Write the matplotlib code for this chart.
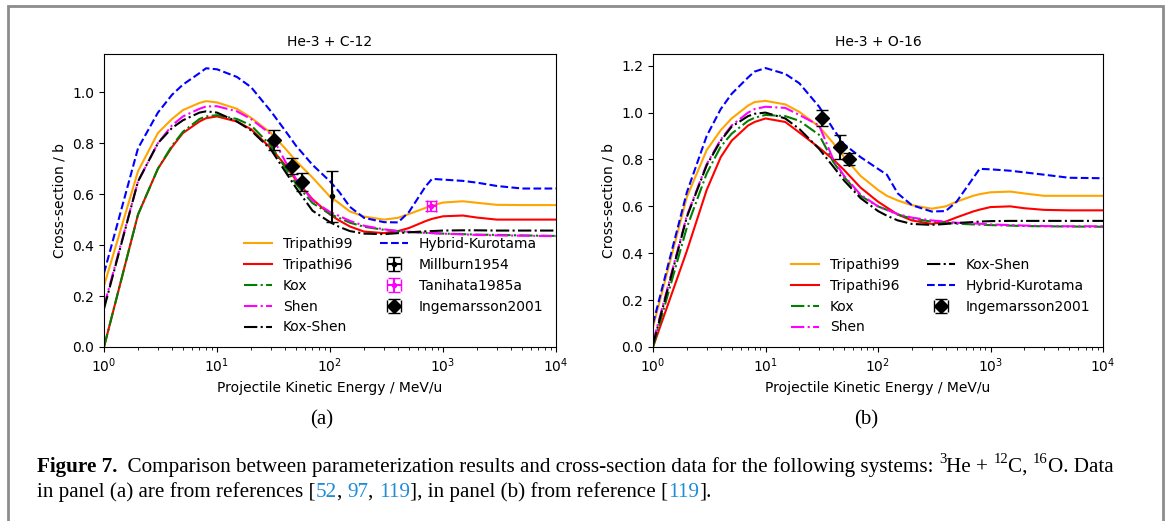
import matplotlib
matplotlib.use("Agg")
import matplotlib.pyplot as plt
from matplotlib.patches import Rectangle

# ---------------------------
# Data
# ---------------------------
W, H, DPI = 1167, 521, 100

energy = [1, 2, 3, 4, 5, 7, 8, 10, 15, 20, 30, 40, 50, 70, 100, 120, 150, 200,
          300, 400, 500, 700, 800, 1000, 1500, 2000, 3000, 5000, 10000]

# panel (a): He-3 + C-12
tri99_a = [0.24, 0.69, 0.84, 0.895, 0.93, 0.958, 0.965, 0.96, 0.935, 0.90, 0.84, 0.78, 0.73, 0.665, 0.59,
           0.565, 0.532, 0.512, 0.50, 0.507, 0.522, 0.546, 0.555, 0.567, 0.572, 0.566, 0.558, 0.557, 0.557]
tri96_a = [0.0, 0.52, 0.70, 0.785, 0.84, 0.885, 0.898, 0.905, 0.885, 0.855, 0.78, 0.715, 0.655, 0.58, 0.52,
           0.497, 0.473, 0.453, 0.447, 0.455, 0.467, 0.494, 0.503, 0.513, 0.516, 0.508, 0.50, 0.50, 0.50]
kox_a = [0.0, 0.52, 0.70, 0.79, 0.845, 0.895, 0.905, 0.91, 0.895, 0.87, 0.79, 0.705, 0.64, 0.565, 0.522,
         0.507, 0.488, 0.472, 0.46, 0.455, 0.452, 0.448, 0.447, 0.445, 0.443, 0.441, 0.44, 0.438, 0.436]
shen_a = [0.16, 0.65, 0.80, 0.87, 0.905, 0.935, 0.944, 0.945, 0.925, 0.895, 0.835, 0.73, 0.66, 0.575, 0.53,
          0.515, 0.495, 0.476, 0.462, 0.455, 0.452, 0.448, 0.447, 0.445, 0.442, 0.44, 0.438, 0.437, 0.435]
koxshen_a = [0.15, 0.65, 0.80, 0.86, 0.89, 0.92, 0.925, 0.92, 0.885, 0.85, 0.775, 0.69, 0.625, 0.535, 0.49,
             0.472, 0.455, 0.445, 0.443, 0.447, 0.45, 0.454, 0.455, 0.457, 0.458, 0.458, 0.457, 0.457, 0.457]
hybrid_a = [0.29, 0.78, 0.92, 0.99, 1.03, 1.075, 1.094, 1.09, 1.06, 1.02, 0.925, 0.85, 0.79, 0.715, 0.65,
            0.61, 0.55, 0.507, 0.49, 0.489, 0.53, 0.63, 0.66, 0.657, 0.652, 0.645, 0.632, 0.622, 0.622]

# panel (b): He-3 + O-16
tri99_b = [0.085, 0.64, 0.84, 0.925, 0.975, 1.03, 1.045, 1.05, 1.035, 1.003, 0.94, 0.87, 0.81, 0.73, 0.67,
           0.645, 0.625, 0.605, 0.59, 0.60, 0.62, 0.645, 0.652, 0.66, 0.663, 0.655, 0.645, 0.645, 0.645]
tri96_b = [0.0, 0.41, 0.67, 0.81, 0.88, 0.945, 0.96, 0.975, 0.96, 0.915, 0.85, 0.80, 0.755, 0.68, 0.62,
           0.595, 0.565, 0.54, 0.525, 0.535, 0.553, 0.578, 0.586, 0.597, 0.60, 0.592, 0.585, 0.583, 0.583]
kox_b = [0.0, 0.51, 0.74, 0.855, 0.91, 0.965, 0.978, 0.99, 0.985, 0.965, 0.905, 0.79, 0.725, 0.645, 0.60,
         0.585, 0.565, 0.548, 0.535, 0.53, 0.526, 0.523, 0.522, 0.52, 0.518, 0.516, 0.515, 0.514, 0.513]
shen_b = [0.02, 0.56, 0.78, 0.885, 0.945, 1.0, 1.015, 1.025, 1.02, 0.99, 0.945, 0.80, 0.73, 0.65, 0.60,
          0.585, 0.567, 0.552, 0.54, 0.535, 0.53, 0.527, 0.526, 0.523, 0.52, 0.518, 0.516, 0.515, 0.515]
koxshen_b = [0.01, 0.555, 0.775, 0.88, 0.94, 0.985, 0.995, 1.0, 0.975, 0.93, 0.845, 0.77, 0.71, 0.635, 0.58,
             0.56, 0.54, 0.525, 0.521, 0.525, 0.529, 0.533, 0.535, 0.537, 0.538, 0.538, 0.538, 0.538, 0.538]
hybrid_b = [0.10, 0.66, 0.90, 1.015, 1.08, 1.15, 1.175, 1.19, 1.165, 1.125, 1.025, 0.93, 0.865, 0.81, 0.76,
            0.735, 0.655, 0.605, 0.578, 0.58, 0.62, 0.72, 0.76, 0.758, 0.752, 0.745, 0.735, 0.722, 0.72]

# measurements
ing_a_e = [32, 46, 56]
ing_a_s = [0.812, 0.71, 0.647]
ing_a_err = [0.039, 0.031, 0.034]
mill_e = [105]
mill_s = [0.592]
mill_err = [0.10]
tani_e = [790]
tani_s = [0.552]
tani_err = [0.02]
tani_xerr = [70]
ing_b_e = [32, 45.5, 55]
ing_b_s = [0.977, 0.853, 0.802]
ing_b_err = [0.036, 0.05, 0.024]


# ---------------------------
# Helpers
# ---------------------------
def draw_models(ax, tri99, tri96, kox, shen, koxshen, hybrid):
    lines = {}
    lines["Tripathi99"], = ax.plot(energy, tri99, color="orange", ls="-")
    lines["Tripathi96"], = ax.plot(energy, tri96, color="red", ls="-")
    lines["Kox"], = ax.plot(energy, kox, color="green", ls="-.")
    lines["Shen"], = ax.plot(energy, shen, color="magenta", ls="-.")
    lines["Kox-Shen"], = ax.plot(energy, koxshen, color="black", ls="-.")
    lines["Hybrid-Kurotama"], = ax.plot(energy, hybrid, color="blue", ls="--")
    return lines


def style_axes(ax, title, ytop):
    ax.set_xscale("log")
    ax.set_xlim(1, 1e4)
    ax.set_ylim(0, ytop)
    ax.set_title(title, fontsize=10)
    ax.set_xlabel("Projectile Kinetic Energy / MeV/u", fontsize=10)
    ax.set_ylabel("Cross-section / b", fontsize=10)
    ax.tick_params(labelsize=10)


# ---------------------------
# Figure
# ---------------------------
fig = plt.figure(figsize=(W / DPI, H / DPI), dpi=DPI)

ax_a = fig.add_axes([104 / W, 1 - 347 / H, (556 - 104) / W, (347 - 54) / H])
ax_b = fig.add_axes([653 / W, 1 - 347 / H, (1103 - 653) / W, (347 - 54) / H])

# panel (a)
la = draw_models(ax_a, tri99_a, tri96_a, kox_a, shen_a, koxshen_a, hybrid_a)
mill = ax_a.errorbar(mill_e, mill_s, yerr=mill_err, xerr=[0], fmt=".", color="black", capsize=4)
tani = ax_a.errorbar(tani_e, tani_s, yerr=tani_err, xerr=tani_xerr, fmt=".", color="magenta", capsize=4)
inga = ax_a.errorbar(ing_a_e, ing_a_s, yerr=ing_a_err, xerr=[0, 0, 0], fmt="D", color="black",
                     markersize=7, capsize=4)
style_axes(ax_a, "He-3 + C-12", 1.15)
handles = [la["Tripathi99"], la["Tripathi96"], la["Kox"], la["Shen"], la["Kox-Shen"],
           la["Hybrid-Kurotama"], mill, tani, inga]
labels = ["Tripathi99", "Tripathi96", "Kox", "Shen", "Kox-Shen",
          "Hybrid-Kurotama", "Millburn1954", "Tanihata1985a", "Ingemarsson2001"]
ax_a.legend(handles, labels, ncol=2, loc="lower right", frameon=False, fontsize=10)

# panel (b)
lb = draw_models(ax_b, tri99_b, tri96_b, kox_b, shen_b, koxshen_b, hybrid_b)
ingb = ax_b.errorbar(ing_b_e, ing_b_s, yerr=ing_b_err, xerr=[0, 0, 0], fmt="D", color="black",
                     markersize=7, capsize=4)
style_axes(ax_b, "He-3 + O-16", 1.25)
handles = [lb["Tripathi99"], lb["Tripathi96"], lb["Kox"], lb["Shen"],
           lb["Kox-Shen"], lb["Hybrid-Kurotama"], ingb]
labels = ["Tripathi99", "Tripathi96", "Kox", "Shen", "Kox-Shen", "Hybrid-Kurotama", "Ingemarsson2001"]
ax_b.legend(handles, labels, ncol=2, loc="lower right", frameon=False, fontsize=10)

# sub-figure labels
serif = ["Liberation Serif", "DejaVu Serif"]
fig.text(322 / W, 1 - 420 / H, "(a)", ha="center", va="center", fontsize=15, family=serif)
fig.text(866 / W, 1 - 420 / H, "(b)", ha="center", va="center", fontsize=15, family=serif)

# outer frame of the figure box
fig.add_artist(Rectangle((8 / W, -0.05), (1163 - 8) / W, 1.05 - 6 / H, transform=fig.transFigure,
                         fill=False, edgecolor="#8c8c8c", lw=2))

# ---------------------------
# Caption (pieces laid out left to right)
# ---------------------------
fig.canvas.draw()
renderer = fig.canvas.get_renderer()
CAP = 15.2
LINK = "#1f8dd6"


def text_width(s, **kw):
    t1 = fig.text(0, 0, "x" + s + "x", **kw)
    t2 = fig.text(0, 0, "xx", **kw)
    w = t1.get_window_extent(renderer).width - t2.get_window_extent(renderer).width
    t1.remove()
    t2.remove()
    return w


def write_line(pieces, x0, y0):
    x = x0
    for s, kind in pieces:
        kw = dict(family=serif, fontsize=CAP, color="black")
        dy = 0
        if kind == "bold":
            kw["weight"] = "bold"
        elif kind == "sup":
            kw["fontsize"] = CAP * 0.7
            dy = CAP * 0.42 * DPI / 72
        elif kind == "link":
            kw["color"] = LINK
        fig.text(x / W, 1 - (y0 - dy) / H, s, ha="left", va="baseline", **kw)
        x += text_width(s, **kw)


line1 = [("Figure 7.", "bold"),
         ("  Comparison between parameterization results and cross-section data for the following systems: ", "n"),
         ("3", "sup"), ("He + ", "n"), ("12", "sup"), ("C, ", "n"), ("16", "sup"), ("O. Data", "n")]
line2 = [("in panel (a) are from references [", "n"), ("52", "link"), (", ", "n"), ("97", "link"),
         (", ", "n"), ("119", "link"), ("], in panel (b) from reference [", "n"), ("119", "link"), ("].", "n")]
write_line(line1, 37, 472)
write_line(line2, 37, 497)

fig.savefig("out.png", dpi=DPI)
